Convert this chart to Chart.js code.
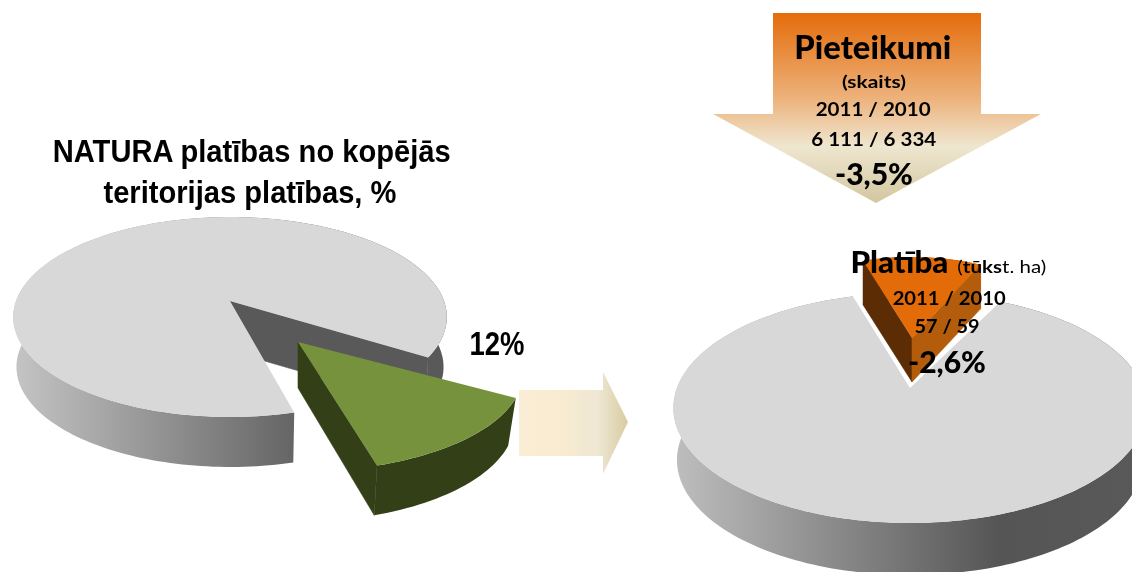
<!DOCTYPE html>
<html><head><meta charset="utf-8">
<style>
html,body{margin:0;padding:0;background:#fff;width:1132px;height:572px;overflow:hidden}
canvas{position:absolute;left:0;top:0}
svg{position:absolute;left:0;top:0}
.t{position:absolute;white-space:nowrap;color:#000;line-height:1;transform-origin:50% 50%}
</style>
<script src="https://cdn.jsdelivr.net/npm/chart.js@4"></script>
</head><body>
<svg width="1132" height="572">
<defs>
<linearGradient id="down" x1="0" y1="13" x2="0" y2="203" gradientUnits="userSpaceOnUse">
<stop offset="0" stop-color="#E46C0A"/><stop offset="0.45" stop-color="#EDB27C"/><stop offset="0.7" stop-color="#EEE6CF"/><stop offset="1" stop-color="#D3C6A0"/>
</linearGradient>
<linearGradient id="right" x1="519" y1="0" x2="628" y2="0" gradientUnits="userSpaceOnUse">
<stop offset="0" stop-color="#FBEED6"/><stop offset="0.4" stop-color="#F8EBD0"/><stop offset="0.72" stop-color="#EEE7D4"/><stop offset="1" stop-color="#D9CBA0"/>
</linearGradient>
</defs>
<polygon fill="url(#down)" points="773,13 981,13 981,114 1041,114 876,203 713,114 773,114"/>
<polygon fill="url(#right)" points="519,390 603,390 603,372 628,422 603,474 603,456 519,456"/>
</svg>
<canvas id="leftPie" width="1132" height="572"></canvas>
<canvas id="rightPie" width="1132" height="572"></canvas>
<div id="labels"></div>
<script>
const pieCategories = ['Pārējā teritorija', 'NATURA platības'];
const leftValues = [88, 12];
const rightValues = [88, 12];
const greyFace = '#D8D8D8', greenFace = '#76923C', orangeFace = '#E36C09';

const leftPoses = [
  {cx:230,cy:301,Rx:214,Ry:97.4,p:0.16,depth:50,shrink:0.985,
   rim:[[15,'#C4C4C4'],[297,'#646464'],[400,'#595959'],[445,'#595959']],wallA:'#595959',wallB:'#595959'},
  {cx:298,cy:342,Rx:212,Ry:87,p:0.33,depth:46,depthK:0.03,shrink:0.965,
   rim:[[300,'#333F16'],[520,'#333F16']],wallA:'#333F16',wallB:'#333F16'}
];
const rightPoses = [
  {cx:910,cy:388,Rx:233,Ry:111.5,p:0.174,depth:52,shrink:0.985,
   rim:[[677,'#BDBDBD'],[1000,'#555555'],[1140,'#595959']],wallA:'#595959',wallB:'#595959'},
  {cx:912,cy:338,Rx:160,Ry:81,p:0,turn:-1.2,depth:44,shrink:1,
   rim:[[860,'#5C2D04'],[980,'#B25C0C']],wallA:'#5C2D04',wallB:'#B25C0C'}
];

function project(q,a){
  const b=a+(q.turn||0)*Math.PI/180;
  const u=Math.cos(b), v=Math.sin(b);
  const w=1-q.p*v;
  return [q.cx+q.Rx*u/w, q.cy+q.Ry*v/w];
}
function lower(q,pt){
  return [q.cx+(pt[0]-q.cx)*q.shrink, pt[1]+q.depth+(q.depthK||0)*(pt[1]-q.cy)];
}
function fillPoly(ctx,pts,style,seal){
  ctx.beginPath();
  pts.forEach((p,i)=> i?ctx.lineTo(p[0],p[1]):ctx.moveTo(p[0],p[1]));
  ctx.closePath(); ctx.fillStyle=style; ctx.fill();
  if(seal){ctx.strokeStyle=style; ctx.lineWidth=0.6; ctx.stroke();}
}
const pie3d = {
  id:'pie3d',
  beforeDatasetsDraw(chart,args,opts){
    const ctx=chart.ctx;
    chart.getDatasetMeta(0).data.forEach((arc,i)=>{
      const {startAngle:a0,endAngle:a1}=arc.getProps(['startAngle','endAngle'],true);
      const q=opts.poses[i];
      const arcPts=[];
      const n=Math.max(8,Math.ceil((a1-a0)*40));
      for(let k=0;k<=n;k++){arcPts.push(project(q,a0+(a1-a0)*k/n));}
      const apex=[q.cx,q.cy];
      const x0=q.rim[0][0],x1=q.rim[q.rim.length-1][0];
      const g=ctx.createLinearGradient(x0,0,x1,0);
      q.rim.forEach(s=>g.addColorStop((s[0]-x0)/(x1-x0),s[1]));
      fillPoly(ctx,arcPts.concat(arcPts.map(p=>lower(q,p)).reverse()),g,false);
      const first=arcPts[0], last=arcPts[arcPts.length-1];
      if(Math.cos(a0)<0) fillPoly(ctx,[apex,first,lower(q,first),lower(q,apex)],q.wallA,true);
      if(Math.cos(a1)>0) fillPoly(ctx,[apex,last,lower(q,last),lower(q,apex)],q.wallB,true);
      fillPoly(ctx,[apex].concat(arcPts),arc.options.backgroundColor,false);
    });
    return false;
  }
};
function makePie(id,values,colors,rotation,poses){
  return new Chart(document.getElementById(id),{
    type:'pie',
    data:{labels:pieCategories,datasets:[{data:values,backgroundColor:colors,borderWidth:0}]},
    options:{responsive:false,animation:false,rotation:rotation,
      plugins:{legend:{display:false},tooltip:{enabled:false},pie3d:{poses:poses}}},
    plugins:[pie3d]
  });
}
makePie('leftPie',leftValues,[greyFace,greenFace],165.3,leftPoses);
makePie('rightPie',rightValues,[greyFace,orangeFace],26.6,rightPoses);

const arial='"Liberation Sans"', lato='Lato';
const labels=[
 ['NATURA platības no kopējās',arial,700,32,252,162,398],
 ['teritorijas platības, %',arial,700,32,250,203,293],
 ['12%',arial,700,34,497,355,55],
 ['Pieteikumi',lato,900,32,873,59,157],
 ['(skaits)',lato,700,17,874,88,64],
 ['2011 / 2010',lato,700,19,873,116,115],
 ['6 111 / 6 334',lato,700,19,874,146,125],
 ['-3,5%',lato,900,30,874,185,78],
 ['Platība',lato,900,31,899,273,98],
 ['(<b>tūks</b>t. ha)',lato,400,17,1002,273,89],
 ['2011 / 2010',lato,700,19,949,305,113],
 ['57 / 59',lato,700,19,947,333,65],
 ['-2,6%',lato,900,30,947,373,78]
];
const box=document.getElementById('labels');
const probe=document.createElement('canvas').getContext('2d');
labels.forEach(([s,fam,wt,size,cx,base,w])=>{
  const el=document.createElement('div');
  el.className='t'; el.innerHTML=s;
  el.style.font=wt+' '+size+'px/1 '+fam;
  box.appendChild(el);
  probe.font=wt+' '+size+'px '+fam;
  const m=probe.measureText('x');
  const asc=m.fontBoundingBoxAscent, desc=m.fontBoundingBoxDescent;
  const top=base-((size-(asc+desc))/2+asc);
  const real=el.getBoundingClientRect().width;
  el.style.left=(cx-real/2)+'px';
  el.style.top=top+'px';
  el.style.transform='scaleX('+(w/real)+')';
});
</script>
</body></html>
